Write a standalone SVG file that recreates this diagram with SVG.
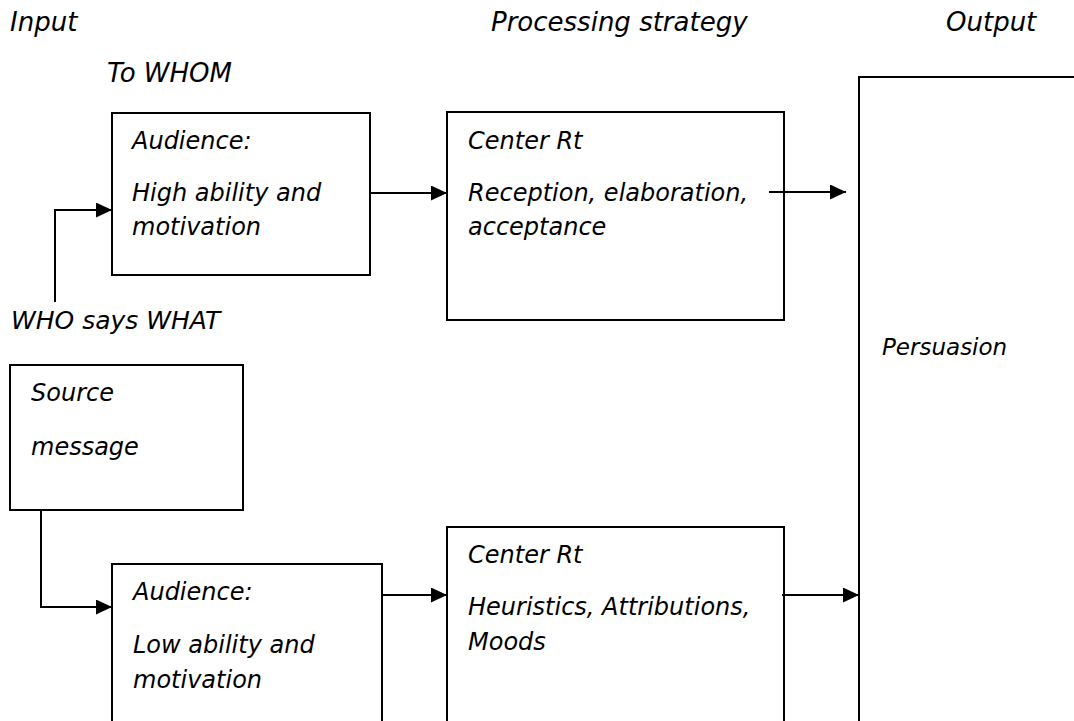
<svg xmlns="http://www.w3.org/2000/svg" width="1074" height="721" viewBox="0 0 1074 721">
<defs>
<style>
text{font-family:"DejaVu Sans","Liberation Sans",sans-serif;font-style:italic;fill:#000;}
.h{font-size:26px;}
.t{font-size:24px;}
.box{fill:#fff;stroke:#000;stroke-width:2;}
.c{fill:none;stroke:#000;stroke-width:2;}
</style>
<marker id="ah" markerUnits="userSpaceOnUse" markerWidth="17" markerHeight="15" refX="16" refY="7.5" orient="auto">
<path d="M0,0 L16,7.5 L0,15 z" fill="#000"/>
</marker>
</defs>
<rect width="1074" height="721" fill="#fff"/>
<g id="headers">
<text class="h" x="10" y="31">Input</text>
<text class="h" x="491" y="31">Processing strategy</text>
<text class="h" x="946" y="31">Output</text>
<text class="h" x="107" y="82">To WHOM</text>
<text x="11" y="329" style="font-size:25px">WHO says WHAT</text>
</g>
<g id="output">
<rect class="box" x="859" y="77" width="300" height="700"/>
<text x="882" y="355" style="font-size:23px">Persuasion</text>
</g>
<g id="audience-high">
<rect class="box" x="112" y="113" width="258" height="162"/>
<text class="t" x="132" y="149">Audience:</text>
<text class="t" x="132" y="201">High ability and</text>
<text class="t" x="132" y="235">motivation</text>
</g>
<g id="central-route">
<rect class="box" x="447" y="112" width="337" height="208"/>
<text class="t" x="468" y="149">Center Rt</text>
<text class="t" x="468" y="201">Reception, elaboration,</text>
<text class="t" x="468" y="235">acceptance</text>
</g>
<g id="source">
<rect class="box" x="10" y="365" width="233" height="145"/>
<text class="t" x="31" y="401">Source</text>
<text class="t" x="31" y="455">message</text>
</g>
<g id="audience-low">
<rect class="box" x="112" y="564" width="270" height="200"/>
<text class="t" x="133" y="600">Audience:</text>
<text class="t" x="133" y="653">Low ability and</text>
<text class="t" x="133" y="688">motivation</text>
</g>
<g id="peripheral-route">
<rect class="box" x="447" y="527" width="337" height="240"/>
<text class="t" x="468" y="563">Center Rt</text>
<text class="t" x="468" y="615">Heuristics, Attributions,</text>
<text class="t" x="468" y="650">Moods</text>
</g>
<g id="connectors">
<path class="c" d="M55,302 V210 H112" marker-end="url(#ah)"/>
<path class="c" d="M370,193 H447" marker-end="url(#ah)"/>
<path class="c" d="M769,192 H846" marker-end="url(#ah)"/>
<path class="c" d="M41,510 V607 H112" marker-end="url(#ah)"/>
<path class="c" d="M382,595 H447" marker-end="url(#ah)"/>
<path class="c" d="M782,595 H859" marker-end="url(#ah)"/>
</g>
</svg>
